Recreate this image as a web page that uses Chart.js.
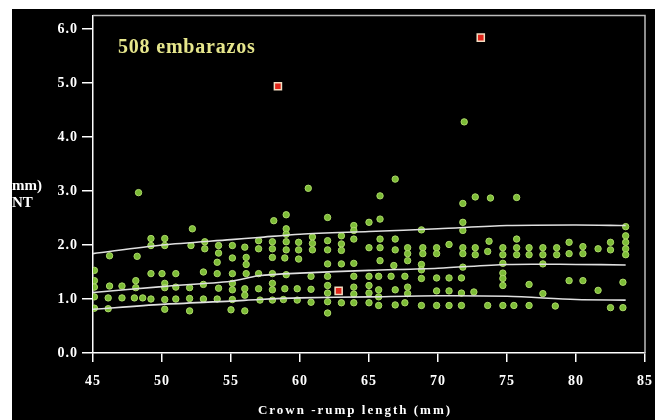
<!DOCTYPE html>
<html>
<head>
<meta charset="utf-8">
<script src="https://cdn.jsdelivr.net/npm/chart.js@4.4.1/dist/chart.umd.min.js"></script>
<style>
  html, body { margin: 0; padding: 0; background: #ffffff; }
  #wrap { position: absolute; left: 12px; top: 9px; width: 643px; height: 411px; background: #000000; }
</style>
</head>
<body>
<div id="wrap"><canvas id="chart" width="643" height="411"></canvas></div>
<script>
// crown-rump length (mm) / NT (mm) pairs
const ntPoints = [
  [48.3, 2.97], [49.2, 2.12], [49.2, 1.99], [50.2, 2.12], [50.2, 1.99], [46.2, 1.80], [48.2, 1.79],
  [45.1, 1.53], [45.1, 1.34], [45.1, 1.22], [45.1, 1.04], [45.1, 0.83],
  [49.2, 1.47], [50.0, 1.47], [51.0, 1.47], [48.1, 1.34], [46.2, 1.24], [47.1, 1.24], [48.1, 1.21],
  [50.2, 1.29], [50.2, 1.21], [51.0, 1.22],
  [46.1, 1.02], [47.1, 1.02], [48.0, 1.02], [48.6, 1.02], [49.2, 1.00], [50.2, 0.99], [51.0, 1.00],
  [46.1, 0.82], [50.2, 0.81],
  [52.2, 2.30], [58.1, 2.45], [52.1, 1.99], [53.1, 2.06], [53.1, 1.93], [54.1, 1.99], [54.1, 1.85],
  [55.1, 1.99], [56.0, 1.96], [57.0, 2.08], [57.0, 1.93], [58.0, 2.06], [58.0, 1.93],
  [54.0, 1.68], [55.1, 1.76], [56.1, 1.77], [56.1, 1.64], [58.0, 1.77],
  [53.0, 1.50], [54.0, 1.47], [55.1, 1.47], [56.1, 1.47], [57.0, 1.47], [58.0, 1.47],
  [52.0, 1.21], [53.0, 1.27], [54.1, 1.20], [55.1, 1.29], [55.1, 1.17], [56.0, 1.19], [56.0, 1.07],
  [57.0, 1.19], [58.0, 1.29], [58.0, 1.17],
  [52.0, 1.01], [53.0, 1.00], [54.0, 1.00], [55.1, 0.99], [57.1, 0.98], [58.0, 0.98],
  [52.0, 0.78], [55.0, 0.80], [56.0, 0.78],
  [60.6, 3.05], [59.0, 2.56], [62.0, 2.51], [65.0, 2.42], [59.0, 2.30], [59.0, 2.20], [59.0, 2.06],
  [59.0, 1.91], [59.9, 2.05], [59.9, 1.91], [60.9, 2.15], [60.9, 2.03], [60.9, 1.91], [62.0, 2.08],
  [62.0, 1.91], [63.0, 2.17], [63.0, 2.02], [63.0, 1.90], [63.9, 2.36], [63.9, 2.27], [63.9, 2.11],
  [65.0, 1.95],
  [58.9, 1.76], [59.9, 1.74], [62.0, 1.65], [63.0, 1.65], [63.9, 1.66],
  [59.0, 1.45], [60.8, 1.42], [62.0, 1.42], [63.9, 1.42], [65.0, 1.42],
  [58.9, 1.19], [59.8, 1.19], [60.8, 1.18], [62.0, 1.25], [62.0, 1.11], [63.9, 1.22], [63.9, 1.09],
  [65.0, 1.25], [65.0, 1.11],
  [58.8, 0.99], [59.8, 0.98], [60.8, 0.94], [62.0, 0.95], [63.0, 0.93], [63.9, 0.93], [65.0, 0.93],
  [62.0, 0.74],
  [66.9, 3.22], [65.8, 2.91], [71.8, 2.77], [65.8, 2.48], [68.8, 2.28], [71.8, 2.42], [71.8, 2.27],
  [65.8, 2.11], [65.8, 1.95], [66.9, 2.11], [66.9, 1.91], [67.8, 1.95], [67.8, 1.84], [67.8, 1.71],
  [68.9, 1.95], [68.9, 1.84], [69.9, 1.95], [69.9, 1.84], [70.8, 2.01], [71.8, 1.95], [71.8, 1.84],
  [65.8, 1.71], [66.8, 1.62], [68.8, 1.64], [68.8, 1.54], [68.8, 1.38], [71.8, 1.59],
  [65.7, 1.42], [66.6, 1.42], [67.6, 1.42], [69.9, 1.39], [70.8, 1.39], [71.7, 1.39],
  [65.7, 1.17], [65.7, 1.04], [66.9, 1.17], [67.8, 1.22], [67.8, 1.10], [69.9, 1.15], [70.8, 1.15],
  [71.7, 1.11],
  [65.7, 0.88], [66.9, 0.89], [67.6, 0.93], [68.8, 0.88], [69.9, 0.88], [70.8, 0.88], [71.7, 0.88],
  [71.9, 4.28], [72.7, 2.89], [73.8, 2.87], [75.7, 2.88], [73.7, 2.07], [75.7, 2.11],
  [72.7, 1.95], [72.7, 1.82], [73.6, 1.88], [74.7, 1.95], [74.7, 1.82], [75.7, 1.95], [75.7, 1.82],
  [76.6, 1.95], [76.6, 1.82], [77.6, 1.95], [77.6, 1.82], [78.6, 1.95], [78.6, 1.82],
  [79.5, 2.05], [79.5, 1.84],
  [74.7, 1.66], [77.6, 1.65], [74.7, 1.48], [74.7, 1.38], [74.7, 1.25], [76.6, 1.27], [79.5, 1.34],
  [72.6, 1.13], [77.6, 1.10],
  [73.6, 0.88], [74.7, 0.88], [75.5, 0.88], [76.6, 0.88], [78.5, 0.87],
  [83.6, 2.34], [83.6, 2.17], [83.6, 2.05], [83.6, 1.93], [83.6, 1.82],
  [80.5, 1.97], [80.5, 1.84], [81.6, 1.93], [82.5, 2.05], [82.5, 1.91],
  [80.5, 1.34], [81.6, 1.16], [83.4, 1.31], [82.5, 0.84], [83.4, 0.84]
]

// outliers (red squares)
const outlierPoints = [[58.4, 4.94], [73.1, 5.84], [62.8, 1.15]]

// percentile curves
const curveCrl = [45, 50, 55, 57, 60, 65, 70, 75, 80, 83.6]
const upperCurve = [1.84, 2.00, 2.10, 2.14, 2.20, 2.25, 2.30, 2.36, 2.37, 2.36]
const medianCurve = [1.12, 1.23, 1.33, 1.43, 1.48, 1.53, 1.57, 1.64, 1.64, 1.63]
const lowerCurve = [0.81, 0.90, 0.96, 0.99, 1.02, 1.04, 1.06, 1.05, 0.99, 0.98]

const xTicks = [45, 50, 55, 60, 65, 70, 75, 80, 85]
const yTicks = [0, 1, 2, 3, 4, 5, 6]

const toXY = (pairs) => pairs.map(([x, y]) => ({ x, y }))
const curve = (ys) => curveCrl.map((x, i) => ({ x, y: ys[i] }))

const serif = "'Liberation Serif', 'DejaVu Serif', serif"

const lineStyle = {
  type: 'line',
  borderColor: '#e0e0e0',
  borderWidth: 1.6,
  pointRadius: 0,
  tension: 0.3,
  fill: false,
  order: 0,
}

// the reference lettering is a bit wide, so space it out
const spacing = {
  id: 'spacing',
  beforeDraw(chart) {
    chart.ctx.letterSpacing = '1px'
  }
}

// frame + text labels that are not part of the scales
const extras = {
  id: 'extras',
  afterDraw(chart) {
    const { ctx, chartArea } = chart
    ctx.save()
    ctx.letterSpacing = '0px'
    ctx.strokeStyle = '#bdbdbd'
    ctx.lineWidth = 1.5
    ctx.beginPath()
    ctx.moveTo(chartArea.left, chartArea.top)
    ctx.lineTo(chartArea.right, chartArea.top)
    ctx.lineTo(chartArea.right, chartArea.bottom)
    ctx.stroke()

    ctx.fillStyle = '#e6e68c'
    ctx.font = 'bold 20px ' + serif
    ctx.letterSpacing = '0.8px'
    ctx.textBaseline = 'alphabetic'
    ctx.textAlign = 'left'
    ctx.fillText('508 embarazos', 106, 44)

    ctx.fillStyle = '#ffffff'
    ctx.font = 'bold 15px ' + serif
    ctx.letterSpacing = '0px'
    ctx.textAlign = 'right'
    ctx.textBaseline = 'middle'
    ctx.fillText('(mm)', 30, 177)
    ctx.textAlign = 'left'
    ctx.fillText('NT', 0, 194)

    ctx.textAlign = 'center'
    ctx.font = 'bold 13px ' + serif
    ctx.letterSpacing = '2px'
    ctx.fillText('Crown -rump length (mm)', 343, 402)
    ctx.restore()
  }
}

new Chart(document.getElementById('chart'), {
  type: 'scatter',
  data: {
    datasets: [
      { ...lineStyle, data: curve(upperCurve) },
      { ...lineStyle, data: curve(medianCurve) },
      { ...lineStyle, data: curve(lowerCurve) },
      {
        data: toXY(ntPoints),
        pointStyle: 'circle',
        pointRadius: 3.2,
        backgroundColor: '#7cbc36',
        borderColor: '#acd868',
        borderWidth: 1,
        order: 1,
      },
      {
        data: toXY(outlierPoints),
        pointStyle: 'rect',
        pointRadius: 5,
        backgroundColor: '#e0251a',
        borderColor: '#f2dcc0',
        borderWidth: 1.5,
        order: -1,
      },
    ],
  },
  options: {
    responsive: false,
    animation: false,
    devicePixelRatio: 1,
    layout: { padding: { left: 0, right: 10, top: 5, bottom: 0 } },
    plugins: { legend: { display: false }, tooltip: { enabled: false } },
    scales: {
      x: {
        type: 'linear',
        min: 45,
        max: 85,
        afterBuildTicks: (s) => { s.ticks = xTicks.map((v) => ({ value: v })) },
        afterFit: (s) => {
          s.height = 67
          s.paddingLeft = 0
          s.paddingRight = 0
        },
        grid: { drawOnChartArea: false, drawTicks: true, tickLength: 9, color: '#ffffff', lineWidth: 1.5 },
        border: { color: '#ffffff', width: 1.5 },
        ticks: {
          color: '#ffffff',
          padding: 11,
          maxRotation: 0,
          font: { family: serif, weight: 'bold', size: 14 },
        },
      },
      y: {
        type: 'linear',
        min: 0,
        max: 6.25,
        afterBuildTicks: (s) => { s.ticks = yTicks.map((v) => ({ value: v })) },
        afterFit: (s) => {
          s.width = 81
          s.paddingTop = 0
          s.paddingBottom = 0
        },
        grid: { drawOnChartArea: false, drawTicks: true, tickLength: 11, color: '#ffffff', lineWidth: 1.5 },
        border: { color: '#ffffff', width: 1.5 },
        ticks: {
          color: '#ffffff',
          padding: 4,
          callback: (v) => v.toFixed(1),
          font: { family: serif, weight: 'bold', size: 14 },
        },
      },
    },
  },
  plugins: [spacing, extras],
})
</script>
</body>
</html>
